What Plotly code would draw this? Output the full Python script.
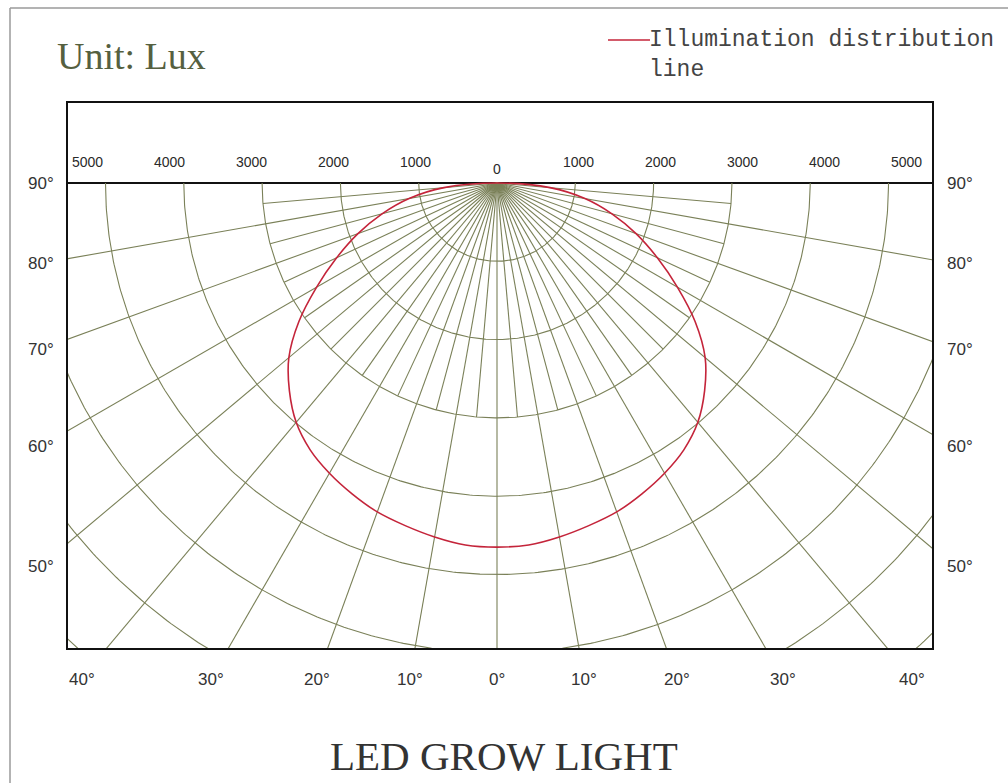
import numpy as np
import plotly.graph_objects as go

# ---------------- data ----------------
curve_angle_deg = [0, 5, 10, 15, 20, 25, 30, 35, 40, 45, 50, 55, 60, 65, 70, 75, 80, 85, 90]
curve_lux = [4650, 4640, 4590, 4530, 4470, 4380, 4280, 4160, 3990, 3750, 3470, 3090, 2660, 2260,
             1890, 1520, 1140, 680, 0]
curve_name = "Illumination distribution<br>line"

arc_lux = [1000, 2000, 3000, 4000, 5000, 6000, 7000, 8000]
major_angles = [0, 10, 20, 30, 40, 50, 60, 70, 80]
minor_angles = [5, 15, 25, 35, 45, 55, 65, 75, 85]
minor_extent_lux = 3000

top_tick_vals = [-5000, -4000, -3000, -2000, -1000, 0, 1000, 2000, 3000, 4000, 5000]
top_tick_text = ["5000", "4000", "3000", "2000", "1000", "0", "1000", "2000", "3000", "4000", "5000"]
side_angle_labels = [90, 80, 70, 60, 50]
bottom_angle_labels = [-40, -30, -20, -10, 0, 10, 20, 30, 40]

# ---------------- layout geometry ----------------
W, H = 1008, 783
BOX_L, BOX_R, BOX_T, BOX_B = 68, 932, 103, 648
ORIG_X, ORIG_Y = 497, 183
K = 0.0783  # px per lux unit

x_range = [(BOX_L - ORIG_X) / K, (BOX_R - ORIG_X) / K]
y_range = [-(BOX_B - ORIG_Y) / K, (ORIG_Y - BOX_T) / K]


def px_x(p):
    return (p - BOX_L) / (BOX_R - BOX_L)


def px_y(p):
    return (BOX_B - p) / (BOX_B - BOX_T)


GRID = "rgb(122,128,88)"
RED = "rgb(196,36,58)"

fig = go.Figure()

# arcs
ax, ay = [], []
th = np.radians(np.linspace(-90, 90, 361))
for R in arc_lux:
    ax += list(R * np.sin(th)) + [None]
    ay += list(-R * np.cos(th)) + [None]
fig.add_trace(go.Scatter(x=ax, y=ay, mode="lines", line=dict(color=GRID, width=1.1),
                         hoverinfo="skip", showlegend=False))

# radial lines
rx, ry = [], []
FAR = 20000
for a in major_angles:
    for s in ([1] if a == 0 else [-1, 1]):
        t = np.radians(s * a)
        rx += [0, FAR * np.sin(t), None]
        ry += [0, -FAR * np.cos(t), None]
for a in minor_angles:
    for s in [-1, 1]:
        t = np.radians(s * a)
        rx += [0, minor_extent_lux * np.sin(t), None]
        ry += [0, -minor_extent_lux * np.cos(t), None]
fig.add_trace(go.Scatter(x=rx, y=ry, mode="lines", line=dict(color=GRID, width=1.1),
                         hoverinfo="skip", showlegend=False))

# illumination curve (symmetric)
ang = [-a for a in curve_angle_deg[::-1]] + curve_angle_deg[1:]
lux = curve_lux[::-1] + curve_lux[1:]
t = np.radians(ang)
cx = np.array(lux) * np.sin(t)
cy = -np.array(lux) * np.cos(t)
fig.add_trace(go.Scatter(x=cx, y=cy, mode="lines", name=curve_name,
                         line=dict(color=RED, width=1.6, shape="spline", smoothing=1.0),
                         hoverinfo="skip", showlegend=False))

annotations = []
# top lux labels
LABEL_SCALE = 1.045
for v, txt in zip(top_tick_vals, top_tick_text):
    annotations.append(dict(x=v * LABEL_SCALE, y=0, xref="x", yref="y", text=txt,
                            showarrow=False, yanchor="bottom", yshift=(4 if v == 0 else 11),
                            font=dict(family="Liberation Sans", size=14, color="#2a2a2a")))
# side angle labels
SIDE_R = 457 / K
for a in side_angle_labels:
    yv = -SIDE_R / np.tan(np.radians(a)) if a != 90 else 0.0
    annotations.append(dict(x=px_x(56), y=yv, xref="paper", yref="y", text=f"{a}°",
                            showarrow=False, xanchor="right", yanchor="middle",
                            font=dict(family="Liberation Sans", size=17, color="#333")))
    annotations.append(dict(x=px_x(945), y=yv, xref="paper", yref="y", text=f"{a}°",
                            showarrow=False, xanchor="left", yanchor="middle",
                            font=dict(family="Liberation Sans", size=17, color="#333")))
# bottom angle labels
BOT_D = 495 / K
for a in bottom_angle_labels:
    xv = BOT_D * np.tan(np.radians(a))
    annotations.append(dict(x=xv, y=px_y(679), xref="x", yref="paper", text=f"{abs(a)}°",
                            showarrow=False, xanchor="center", yanchor="middle",
                            font=dict(family="Liberation Sans", size=17, color="#333")))
# texts
annotations.append(dict(x=px_x(55), y=px_y(56), xref="paper", yref="paper", text="Unit: Lux",
                        showarrow=False, xanchor="left", yanchor="middle",
                        font=dict(family="Liberation Serif", size=38, color="#55603f")))
annotations.append(dict(x=px_x(504), y=px_y(756), xref="paper", yref="paper", text="LED GROW LIGHT",
                        showarrow=False, xanchor="center", yanchor="middle",
                        font=dict(family="Liberation Serif", size=41, color="#333")))
# legend (key line + text)
annotations.append(dict(x=px_x(647), y=px_y(25), xref="paper", yref="paper", text=curve_name,
                        showarrow=False, xanchor="left", yanchor="top", align="left",
                        font=dict(family="Liberation Mono", size=23, color="#444")))

shapes = [
    dict(type="line", xref="paper", yref="paper", x0=px_x(10), x1=px_x(10), y0=px_y(8), y1=px_y(783),
         line=dict(color="#9a9a9a", width=1.5)),
    dict(type="line", xref="paper", yref="paper", x0=px_x(10), x1=px_x(1008), y0=px_y(8), y1=px_y(8),
         line=dict(color="#9a9a9a", width=1.5)),
    dict(type="line", xref="paper", yref="paper", x0=px_x(608), x1=px_x(650), y0=px_y(40), y1=px_y(40),
         line=dict(color=RED, width=1.6)),
]

fig.update_layout(
    width=W, height=H, autosize=False,
    margin=dict(l=BOX_L, r=W - BOX_R, t=BOX_T, b=H - BOX_B, pad=0),
    paper_bgcolor="white", plot_bgcolor="white",
    xaxis=dict(range=x_range, showgrid=False, zeroline=False, showticklabels=False, ticks="",
               showline=True, mirror=True, linecolor="#111", linewidth=2, fixedrange=True),
    yaxis=dict(range=y_range, showgrid=False, zeroline=True, zerolinecolor="#111", zerolinewidth=1.5,
               showticklabels=False, ticks="", showline=True, mirror=True, linecolor="#111",
               linewidth=2, fixedrange=True),
    annotations=annotations, shapes=shapes,
    showlegend=False,
)

fig.write_html("out.html", config={"displayModeBar": False},
               post_script="document.body.style.margin='0';")
